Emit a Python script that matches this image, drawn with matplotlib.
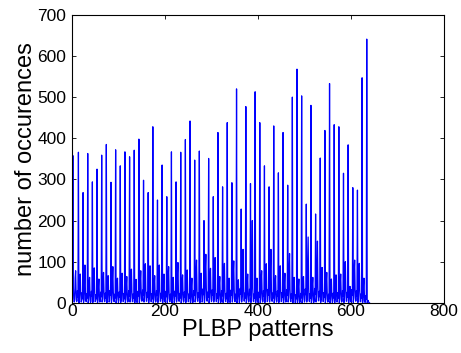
import matplotlib
matplotlib.use("Agg")
import matplotlib.pyplot as plt
import numpy as np

# Histogram of PLBP pattern occurrences, 64 groups of 10 bins
counts_by_group = [
    [12, 358, 40, 10, 2, 8, 60, 78, 25, 3],
    [5, 30, 14, 366, 0, 10, 48, 70, 22, 2],
    [6, 25, 10, 268, 1, 9, 55, 92, 30, 4],
    [3, 22, 12, 363, 0, 6, 45, 62, 18, 1],
    [4, 28, 16, 294, 1, 12, 66, 85, 24, 3],
    [5, 20, 10, 325, 0, 7, 40, 58, 20, 2],
    [6, 26, 15, 359, 2, 10, 52, 74, 28, 3],
    [4, 24, 11, 385, 0, 8, 46, 66, 19, 2],
    [5, 30, 18, 293, 1, 11, 58, 88, 26, 4],
    [3, 21, 12, 372, 0, 7, 42, 60, 17, 1],
    [6, 27, 14, 333, 1, 9, 50, 72, 23, 3],
    [4, 23, 10, 367, 0, 8, 44, 64, 21, 2],
    [5, 29, 16, 355, 2, 12, 60, 82, 27, 3],
    [3, 22, 11, 371, 0, 6, 40, 57, 16, 1],
    [6, 28, 17, 398, 1, 10, 54, 78, 25, 4],
    [5, 31, 19, 298, 2, 13, 70, 95, 30, 4],
    [4, 26, 13, 268, 0, 9, 62, 90, 28, 3],
    [3, 22, 10, 428, 0, 7, 46, 66, 20, 2],
    [6, 30, 18, 250, 1, 12, 68, 92, 29, 4],
    [4, 24, 12, 335, 0, 8, 48, 70, 22, 2],
    [5, 28, 15, 258, 1, 10, 64, 88, 26, 3],
    [3, 21, 10, 367, 0, 6, 44, 62, 18, 1],
    [6, 29, 17, 294, 2, 11, 72, 98, 31, 4],
    [4, 23, 12, 366, 0, 8, 50, 68, 21, 2],
    [5, 27, 14, 397, 1, 10, 56, 80, 25, 3],
    [3, 22, 11, 442, 0, 7, 42, 60, 18, 1],
    [6, 30, 18, 347, 2, 12, 74, 104, 32, 4],
    [4, 25, 13, 369, 0, 9, 52, 72, 22, 2],
    [5, 34, 20, 200, 1, 14, 88, 118, 36, 5],
    [4, 26, 14, 351, 0, 9, 58, 84, 26, 3],
    [6, 32, 19, 258, 2, 13, 80, 110, 34, 4],
    [3, 22, 11, 414, 0, 7, 46, 64, 19, 1],
    [5, 30, 17, 282, 1, 11, 70, 96, 30, 4],
    [3, 23, 10, 438, 0, 6, 44, 60, 18, 1],
    [6, 31, 18, 292, 2, 12, 76, 102, 32, 4],
    [3, 21, 10, 520, 0, 7, 40, 56, 16, 1],
    [6, 35, 21, 228, 2, 15, 90, 130, 38, 5],
    [4, 24, 12, 477, 0, 8, 48, 70, 20, 2],
    [6, 33, 20, 290, 1, 14, 84, 200, 36, 4],
    [3, 22, 11, 513, 0, 7, 42, 60, 18, 1],
    [4, 26, 13, 438, 0, 9, 56, 78, 24, 2],
    [5, 30, 17, 333, 1, 12, 70, 95, 30, 3],
    [6, 33, 19, 282, 2, 14, 84, 130, 35, 4],
    [4, 24, 12, 430, 0, 8, 48, 66, 21, 2],
    [5, 29, 16, 316, 1, 11, 66, 90, 28, 3],
    [4, 25, 13, 414, 0, 9, 50, 72, 22, 2],
    [6, 32, 18, 286, 2, 13, 78, 120, 33, 4],
    [3, 22, 11, 500, 0, 7, 44, 62, 19, 1],
    [3, 20, 10, 568, 0, 6, 40, 58, 17, 1],
    [4, 23, 12, 503, 0, 8, 46, 64, 20, 2],
    [6, 34, 20, 240, 2, 14, 88, 160, 36, 5],
    [3, 22, 11, 480, 0, 7, 44, 62, 18, 1],
    [6, 35, 21, 216, 2, 15, 92, 150, 38, 5],
    [5, 28, 15, 352, 1, 10, 62, 86, 27, 3],
    [4, 25, 13, 419, 0, 9, 52, 74, 23, 2],
    [3, 21, 10, 533, 0, 6, 40, 58, 17, 1],
    [4, 24, 12, 433, 0, 8, 48, 68, 21, 2],
    [4, 25, 12, 428, 0, 8, 50, 70, 22, 2],
    [5, 30, 17, 315, 1, 12, 72, 100, 31, 4],
    [4, 26, 14, 384, 0, 9, 30, 40, 24, 2],
    [6, 32, 18, 280, 1, 12, 76, 104, 32, 4],
    [5, 30, 17, 274, 1, 11, 70, 96, 30, 3],
    [3, 22, 11, 547, 0, 7, 42, 60, 18, 1],
    [2, 18, 9, 641, 0, 4, 6, 2, 0, 0],
]

x_ticks = [0, 200, 400, 600, 800]
y_ticks = [0, 100, 200, 300, 400, 500, 600, 700]

counts = np.array(counts_by_group, dtype=float).ravel()
bins = np.arange(1, len(counts) + 1)

fig = plt.figure(figsize=(4.61, 3.53), dpi=100)
ax = fig.add_axes([0.156, 0.142, 0.807, 0.816])
ax.plot(bins, counts, color=(0, 0, 1), linewidth=0.9)

ax.set_xlim(0, 800)
ax.set_ylim(0, 700)
ax.set_xticks(x_ticks)
ax.set_yticks(y_ticks)

font = ["Liberation Sans", "DejaVu Sans"]
ax.tick_params(direction="in", length=3, width=0.6, top=True, right=True,
               labelsize=12.5)
ax.tick_params(axis="y", pad=4)
ax.tick_params(axis="x", pad=1)
for lab in ax.get_xticklabels() + ax.get_yticklabels():
    lab.set_family(font)
for sp in ax.spines.values():
    sp.set_linewidth(0.8)

ax.set_xlabel("PLBP patterns", fontsize=17, family=font, labelpad=0)
ax.set_ylabel("number of occurences", fontsize=17, family=font, labelpad=0)

fig.savefig("out.png", dpi=100)
